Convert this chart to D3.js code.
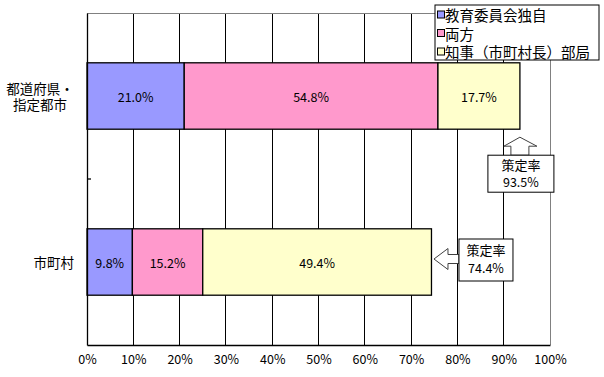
<!DOCTYPE html>
<html>
<head>
<meta charset="utf-8">
<script src="https://cdn.jsdelivr.net/npm/d3@7"></script>
<style>
  body { margin: 0; background: #fff; }
  svg text { font-family: "Noto Sans CJK JP", sans-serif; fill: #000; }
</style>
</head>
<body>
<div id="chart"></div>
<script>
// data
const categories = ["都道府県・\n指定都市", "市町村"];
const seriesNames = ["教育委員会独自", "両方", "知事（市町村長）部局"];
const ownBoard = [21.0, 9.8];
const both = [54.8, 15.2];
const chiefDept = [17.7, 49.4];
const rates = [93.5, 74.4];
const xTicks = [0, 10, 20, 30, 40, 50, 60, 70, 80, 90, 100];
const colors = ["#9999ff", "#ff99cc", "#ffffcc"];

const W = 604, H = 377;
const margin = {top: 13, right: 54, bottom: 32, left: 87};

const svg = d3.select("#chart").append("svg")
    .attr("width", W)
    .attr("height", H);

const x = d3.scaleLinear().domain([0, 100]).range([margin.left, W - margin.right]);
const y = d3.scaleBand().domain(categories).range([margin.top, H - margin.bottom]);
const barH = y.bandwidth() * 0.4;

// gridlines
svg.append("g")
    .selectAll("line")
    .data(xTicks.slice(1, -1))
    .join("line")
    .attr("x1", d => x(d)).attr("x2", d => x(d))
    .attr("y1", margin.top).attr("y2", H - margin.bottom)
    .attr("stroke", "#000").attr("stroke-width", 1)
    .attr("shape-rendering", "crispEdges");

// plot border (top/right grey)
svg.append("line")
    .attr("x1", x(0)).attr("x2", x(100))
    .attr("y1", margin.top).attr("y2", margin.top)
    .attr("stroke", "#808080").attr("shape-rendering", "crispEdges");
svg.append("line")
    .attr("x1", x(100)).attr("x2", x(100))
    .attr("y1", margin.top).attr("y2", H - margin.bottom)
    .attr("stroke", "#808080").attr("shape-rendering", "crispEdges");

// stacked bars
const rows = categories.map((c, i) => {
    const vals = [ownBoard[i], both[i], chiefDept[i]];
    let acc = 0;
    return vals.map((v, k) => {
        const s = {cat: c, k: k, x0: acc, x1: acc + v, v: v};
        acc += v;
        return s;
    });
}).flat();

svg.append("g")
    .selectAll("rect")
    .data(rows)
    .join("rect")
    .attr("x", d => x(d.x0))
    .attr("width", d => x(d.x1) - x(d.x0))
    .attr("y", d => y(d.cat) + (y.bandwidth() - barH) / 2)
    .attr("height", barH)
    .attr("fill", d => colors[d.k])
    .attr("stroke", "#000")
    .attr("stroke-width", 1.3);

svg.append("g")
    .selectAll("text")
    .data(rows)
    .join("text")
    .attr("x", d => (x(d.x0) + x(d.x1)) / 2)
    .attr("y", d => y(d.cat) + y.bandwidth() / 2)
    .attr("text-anchor", "middle")
    .attr("dominant-baseline", "central")
    .style("font-size", "12.5px")
    .text(d => d.v.toFixed(1) + "%");

// axes
const xAxis = svg.append("g")
    .attr("transform", `translate(0,${H - margin.bottom})`)
    .call(d3.axisBottom(x).tickValues(xTicks).tickSize(0).tickPadding(10).tickFormat(d => d + "%"));
xAxis.select(".domain").attr("stroke", "#000").attr("stroke-width", 1.3);
xAxis.selectAll("text")
    .style("font-size", "12.5px")
    .style("font-family", "'Noto Sans CJK JP', sans-serif");

const yAxis = svg.append("g")
    .attr("transform", `translate(${x(0)},0)`)
    .call(d3.axisLeft(y).tickSize(0).tickFormat(""));
yAxis.select(".domain").attr("stroke", "#000").attr("stroke-width", 1.3);
// tick between categories (inward)
svg.append("line")
    .attr("x1", x(0)).attr("x2", x(0) + 4)
    .attr("y1", y(categories[1])).attr("y2", y(categories[1]))
    .attr("stroke", "#000").attr("stroke-width", 1.3);

// category labels (one text per line)
categories.forEach((c, i) => {
    const lines = c.split("\n");
    const cy = y(c) + y.bandwidth() / 2;
    lines.forEach((ln, j) => {
        svg.append("text")
            .attr("x", lines.length > 1 ? 40 : 74)
            .attr("y", cy + (j - (lines.length - 1) / 2) * 16.5)
            .attr("text-anchor", lines.length > 1 ? "middle" : "end")
            .attr("dominant-baseline", "central")
            .style("font-size", "13.5px")
            .text(ln);
    });
});

// callout 1: up arrow under bar 1
{
    const tx = x(rates[0]);
    const by = y(categories[0]) + (y.bandwidth() + barH) / 2;
    const tip = by + 8, base = tip + 9, boxTop = base + 9;
    const pts = [[tx, tip], [tx + 17, base], [tx + 9, base], [tx + 9, boxTop],
                 [tx - 9, boxTop], [tx - 9, base], [tx - 16, base]];
    svg.append("polygon")
        .attr("points", pts.map(p => p.join(",")).join(" "))
        .attr("fill", "#fff").attr("stroke", "#404040");
    svg.append("rect")
        .attr("x", tx - 32).attr("y", boxTop)
        .attr("width", 66).attr("height", 37)
        .attr("fill", "#fff").attr("stroke", "#000");
    svg.append("text").attr("x", tx + 1).attr("y", boxTop + 9)
        .attr("text-anchor", "middle").attr("dominant-baseline", "central")
        .style("font-size", "13px").text("策定率");
    svg.append("text").attr("x", tx + 1).attr("y", boxTop + 26)
        .attr("text-anchor", "middle").attr("dominant-baseline", "central")
        .style("font-size", "12.5px").text(rates[0].toFixed(1) + "%");
}

// callout 2: left arrow right of bar 2
{
    const tx = x(rates[1]) + 2.5;
    const cy = y(categories[1]) + y.bandwidth() / 2 - 3;
    const base = tx + 14, boxLeft = base + 11;
    const pts = [[tx, cy], [base, cy - 10.5], [base, cy - 4.5], [boxLeft, cy - 4.5],
                 [boxLeft, cy + 4.5], [base, cy + 4.5], [base, cy + 10.5]];
    svg.append("polygon")
        .attr("points", pts.map(p => p.join(",")).join(" "))
        .attr("fill", "#fff").attr("stroke", "#404040");
    svg.append("rect")
        .attr("x", boxLeft).attr("y", cy - 20)
        .attr("width", 54).attr("height", 42)
        .attr("fill", "#fff").attr("stroke", "#000");
    svg.append("text").attr("x", boxLeft + 27).attr("y", cy - 10)
        .attr("text-anchor", "middle").attr("dominant-baseline", "central")
        .style("font-size", "13px").text("策定率");
    svg.append("text").attr("x", boxLeft + 27).attr("y", cy + 8)
        .attr("text-anchor", "middle").attr("dominant-baseline", "central")
        .style("font-size", "12.5px").text(rates[1].toFixed(1) + "%");
}

// legend
const legend = svg.append("g").attr("transform", "translate(435,5)");
legend.append("rect")
    .attr("width", 164).attr("height", 55)
    .attr("fill", "#fff").attr("stroke", "#000");
seriesNames.forEach((name, i) => {
    const ly = 9.5 + i * 18.5;
    legend.append("rect")
        .attr("x", 2.5).attr("y", ly - 3.5)
        .attr("width", 7).attr("height", 7)
        .attr("fill", colors[i]).attr("stroke", "#000");
    legend.append("text")
        .attr("x", 10).attr("y", ly)
        .attr("dominant-baseline", "central")
        .style("font-size", "14.5px")
        .text(name);
});
</script>
</body>
</html>
